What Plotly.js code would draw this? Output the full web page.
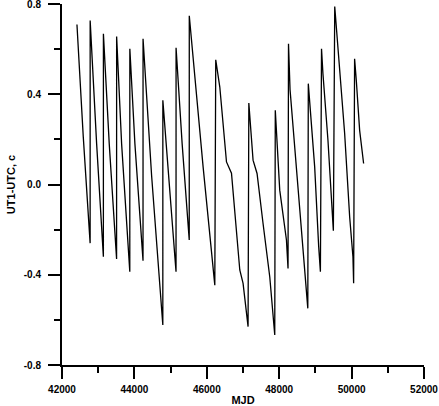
<!DOCTYPE html>
<html>
<head>
<meta charset="utf-8">
<script src="https://cdn.plot.ly/plotly-3.0.1.min.js"></script>
<style>
  html, body { margin: 0; padding: 0; background: #ffffff; }
  #chart { width: 439px; height: 406px; }
</style>
</head>
<body>
<div id="chart"></div>
<script>
// UT1-UTC (seconds) against Modified Julian Date, 1975-1996.
// Each saw-tooth runs from just after a leap second to just before the next one.
const mjd = [
  42413, 42588, 42777,
  42778, 42957, 43143,
  43144, 43305, 43508,
  43509, 43647, 43873,
  43874, 44014, 44238,
  44239, 44475, 44785,
  44786, 44952, 45150,
  45151, 45319, 45515,
  45516, 45898, 46221,
  46247, 46359, 46544, 46682, 46911, 47002, 47140,
  47161, 47278, 47388, 47554, 47739, 47877,
  47892, 48015, 48200, 48244,
  48257, 48300, 48530, 48650, 48790,
  48804, 48842, 48980, 49091, 49138,
  49169, 49209, 49347, 49458, 49496,
  49534, 49579, 49808, 49946, 50037, 50056,
  50083, 50130, 50222, 50332
];
const ut1utc = [
  0.709, 0.21, -0.26,
  0.727, 0.18, -0.32,
  0.668, 0.18, -0.33,
  0.656, 0.18, -0.387,
  0.602, 0.18, -0.338,
  0.646, 0.04, -0.623,
  0.373, 0.034, -0.387,
  0.606, 0.18, -0.246,
  0.748, 0.078, -0.446,
  0.553, 0.432, 0.10, 0.05, -0.379, -0.438, -0.630,
  0.361, 0.108, 0.049, -0.173, -0.409, -0.667,
  0.329, -0.025, -0.246, -0.372,
  0.624, 0.42, -0.04, -0.276, -0.549,
  0.447, 0.373, 0.078, -0.276, -0.387,
  0.602, 0.49, 0.196, -0.069, -0.205,
  0.789, 0.697, 0.226, -0.143, -0.32, -0.438,
  0.557, 0.461, 0.24, 0.093
];

const xTickVals = [42000, 44000, 46000, 48000, 50000, 52000];
const xTickText = ['42000', '44000', '46000', '48000', '50000', '52000'];
const yTickVals = [-0.8, -0.4, 0.0, 0.4, 0.8];
const yTickText = ['-0.8', '-0.4', '0.0', '0.4', '0.8'];

const FONT = 'Liberation Sans, Arial, Helvetica, sans-serif';

const trace = {
  x: mjd,
  y: ut1utc,
  type: 'scatter',
  mode: 'lines',
  line: { color: '#000000', width: 1.3 },
  hoverinfo: 'x+y'
};

const layout = {
  width: 439,
  height: 406,
  margin: { l: 62, r: 14.5, t: 3.5, b: 41 },
  paper_bgcolor: '#ffffff',
  plot_bgcolor: '#ffffff',
  showlegend: false,
  font: { family: FONT, color: '#000000', size: 10, weight: 'bold' },
  xaxis: {
    range: [42000, 52000],
    showgrid: false,
    zeroline: false,
    showline: true,
    linecolor: '#000000',
    linewidth: 2,
    ticks: 'outside',
    ticklen: 12,
    tickwidth: 2,
    tickcolor: '#000000',
    tickvals: xTickVals,
    ticktext: xTickText,
    ticklabeloverflow: 'allow',
    ticklabelstandoff: 2,
    tickfont: { family: FONT, size: 10, weight: 'bold', color: '#000000' },
    minor: { dtick: 1000, tick0: 42000, ticks: 'outside', ticklen: 6, tickwidth: 2, tickcolor: '#000000', showgrid: false },
    title: { text: 'MJD', font: { family: FONT, size: 11, weight: 'bold', color: '#000000' }, standoff: 3 },
    automargin: false
  },
  yaxis: {
    range: [-0.8, 0.8],
    showgrid: false,
    zeroline: false,
    showline: true,
    linecolor: '#000000',
    linewidth: 2,
    ticks: 'outside',
    ticklen: 12,
    tickwidth: 2,
    tickcolor: '#000000',
    tickvals: yTickVals,
    ticktext: yTickText,
    ticklabeloverflow: 'allow',
    tickfont: { family: FONT, size: 10, weight: 'bold', color: '#000000' },
    ticklabelstandoff: 5,
    minor: { dtick: 0.2, tick0: 0, ticks: 'outside', ticklen: 6, tickwidth: 2, tickcolor: '#000000', showgrid: false },
    title: { text: 'UT1-UTC, c', font: { family: FONT, size: 11, weight: 'bold', color: '#000000' }, standoff: 6 },
    automargin: false
  }
};

Plotly.newPlot('chart', [trace], layout, { displayModeBar: false, staticPlot: true });
</script>
</body>
</html>
